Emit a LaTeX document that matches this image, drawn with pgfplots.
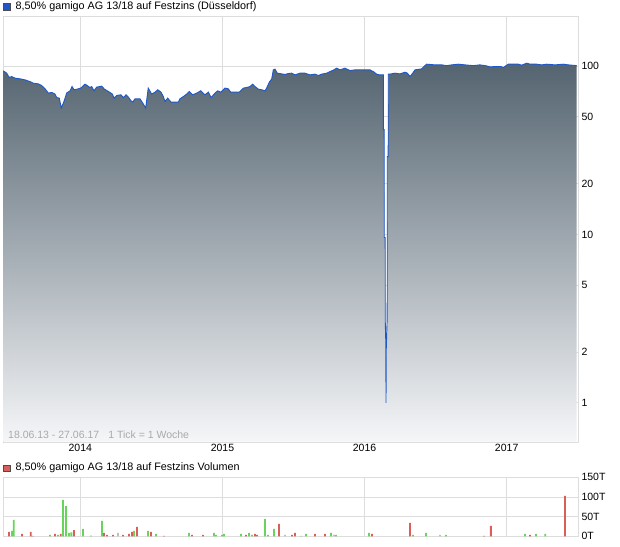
\documentclass[border=0pt]{standalone}
\usepackage{fontspec}
\setmainfont{Liberation Sans}
\usepackage{pgfplots}
\pgfplotsset{compat=1.18}
\usepackage{pgfplotstable}

\definecolor{gridc}{RGB}{221,221,221}
\definecolor{linec}{RGB}{30,88,200}
\definecolor{topc}{RGB}{84,100,112}
\definecolor{botc}{RGB}{245,246,248}
\definecolor{volg}{RGB}{102,214,90}
\definecolor{volr}{RGB}{217,96,90}
\definecolor{volgr}{RGB}{190,190,190}
\definecolor{infoc}{RGB}{170,170,170}

\pgfplotstableread{
x y
2013.458 93.8
2013.482 90.9
2013.500 85.6
2013.517 86.8
2013.541 84.9
2013.576 84.1
2013.611 82.9
2013.646 81.0
2013.669 79.3
2013.705 78.5
2013.728 76.7
2013.752 73.4
2013.775 69.2
2013.799 69.8
2013.822 68.3
2013.834 65.1
2013.852 64.6
2013.866 56.4
2013.885 61.7
2013.904 69.2
2013.928 71.4
2013.942 75.7
2013.956 72.4
2013.979 73.1
2014.003 74.1
2014.033 78.2
2014.049 76.7
2014.068 74.7
2014.080 75.7
2014.096 71.4
2014.115 75.1
2014.127 75.4
2014.151 76.1
2014.169 73.1
2014.186 71.7
2014.209 69.8
2014.225 68.3
2014.239 64.6
2014.256 67.0
2014.286 67.6
2014.303 65.1
2014.322 67.6
2014.338 65.5
2014.357 62.3
2014.369 61.2
2014.385 64.0
2014.420 64.0
2014.439 60.4
2014.460 56.4
2014.478 74.1
2014.502 68.3
2014.526 70.1
2014.545 72.4
2014.568 70.1
2014.584 66.0
2014.596 61.7
2014.615 64.6
2014.638 61.2
2014.690 61.2
2014.701 64.0
2014.725 66.0
2014.749 68.3
2014.767 70.7
2014.790 67.6
2014.819 69.2
2014.847 71.4
2014.877 67.6
2014.901 70.1
2014.920 65.1
2014.948 69.2
2014.967 71.4
2014.988 70.1
2015.018 74.1
2015.041 73.4
2015.058 70.1
2015.119 70.1
2015.147 74.1
2015.171 74.7
2015.194 75.7
2015.213 78.2
2015.229 75.7
2015.252 73.1
2015.276 72.4
2015.300 71.4
2015.311 74.1
2015.330 80.4
2015.347 84.1
2015.358 95.1
2015.370 96.0
2015.386 90.9
2015.440 89.3
2015.463 90.4
2015.487 90.9
2015.511 88.8
2015.546 90.9
2015.581 90.9
2015.616 88.8
2015.651 89.7
2015.675 88.0
2015.698 89.7
2015.734 90.9
2015.757 92.9
2015.780 94.7
2015.804 97.3
2015.827 95.1
2015.862 97.3
2015.898 94.2
2015.933 95.1
2016.038 95.1
2016.062 92.9
2016.085 89.7
2016.104 88.8
2016.1320 88.8
2016.1327 42
2016.1382 42
2016.1389 9.6
2016.1452 9.6
2016.1459 3.0
2016.1500 2.2
2016.1509 1.0
2016.1530 2.1
2016.1593 3.2
2016.1600 29
2016.1663 29
2016.1670 89.7
2016.179 89.7
2016.214 90.9
2016.249 90.0
2016.285 92.1
2016.301 90.9
2016.320 86.8
2016.339 90.9
2016.355 95.1
2016.402 96.4
2016.418 99.5
2016.437 102.8
2016.496 101.8
2016.543 101.8
2016.578 100.8
2016.613 101.8
2016.660 102.8
2016.707 101.8
2016.765 100.8
2016.812 101.8
2016.859 100.4
2016.883 99.0
2016.918 99.5
2016.960 99.5
2016.976 98.1
2017.011 102.8
2017.082 102.8
2017.106 101.4
2017.141 104.2
2017.164 102.8
2017.211 102.8
2017.246 101.8
2017.282 102.8
2017.340 101.8
2017.398 102.8
2017.434 101.8
2017.493 100.8
}\price

\pgfplotstableread{
x v
2013.519 13.6
2013.531 41.5
2013.787 3.5
2013.843 3.5
2013.878 92.5
2013.899 77
2013.920 8.5
2013.937 10
2014.019 19
2014.075 1.7
2014.153 39
2014.378 13.6
2014.476 13.6
2014.533 6
2014.765 8.5
2014.941 8.5
2014.955 3.4
2014.997 3.4
2015.011 6
2015.131 6
2015.187 8.5
2015.208 3.4
2015.300 44
2015.321 3.4
2015.363 19
2015.553 1
2015.588 6
2015.764 8.5
2015.799 3.4
2016.031 8.5
2016.341 3.4
2016.432 8.5
2016.573 3.4
2017.129 6
2017.206 6
2017.272 6
}\volgreen

\pgfplotstableread{
x v
2013.498 11
2013.590 6
2013.651 11
2013.665 1
2013.822 6
2013.862 6
2013.956 16
2014.167 8.5
2014.188 3.4
2014.230 3.4
2014.300 3.4
2014.343 6
2014.364 11
2014.399 24
2014.497 11
2014.589 1
2014.786 3.4
2014.863 3.4
2015.166 3.4
2015.229 6
2015.243 3.4
2015.398 31.5
2015.489 3.4
2015.511 8.5
2015.651 6
2015.722 6
2016.052 6
2016.320 34
2016.840 1
2016.889 26.5
2017.164 3.4
2017.410 102.7
}\volred

\pgfplotstableread{
x v
2014.265 8.5
2015.440 3.4
2015.785 3.4
2016.531 3.4
}\volgray

\begin{document}
\begin{tikzpicture}
\useasboundingbox (0pt,0pt) rectangle (620pt,-546pt);
\pgfplotsset{
  every axis/.append style={
    scale only axis, anchor=north west,
    width=575pt,
    xmin=2013.456, xmax=2017.502,
    axis line style={gridc},
    grid=major, major grid style={gridc, line width=0.9pt},
    major tick length=0pt,
    xtick={2014,2015,2016,2017},
    yticklabel pos=right,
    tick label style={font=\fontsize{10.5}{12}\selectfont, text=black},
    /pgf/number format/assume math mode=true,
  }
}
% main price chart
\begin{axis}[
  at={(3pt,-16pt)}, height=425.7pt,
  ymode=log, ymin=0.587, ymax=198.7, log origin y=infty,
  xticklabels={2014,2015,2016,2017},
  ytick={1,2,5,10,20,50,100}, yticklabels={1,2,5,10,20,50,100},
  xticklabel style={yshift=1.5pt},
]
\addplot[draw=none, top color=topc, bottom color=botc] table[x=x,y=y]{\price} \closedcycle;
\addplot[linec, line width=0.9pt] table[x=x,y=y]{\price};
\node[anchor=base west, text=infoc, font=\fontsize{10.5}{12}\selectfont, inner sep=0pt]
  at (rel axis cs:0.0087,0.0065) {18.06.13 - 27.06.17\hspace{9pt}1 Tick = 1 Woche};
\end{axis}

% volume chart
\begin{axis}[
  at={(3pt,-477.3pt)}, height=59pt,
  ymin=0, ymax=150,
  xticklabels={},
  ytick={0,50,100,150}, yticklabels={0T,50T,100T,150T},
]
\addplot[ybar, bar width=1.8pt, bar shift=0pt, fill=volg, draw=none] table[x=x,y=v]{\volgreen};
\addplot[ybar, bar width=1.8pt, bar shift=0pt, fill=volr, draw=none] table[x=x,y=v]{\volred};
\addplot[ybar, bar width=1.8pt, bar shift=0pt, fill=volgr, draw=none] table[x=x,y=v]{\volgray};
\end{axis}

% titles
\node[draw=black!70, fill=linec, minimum size=6.5pt, inner sep=0pt] at (6.5pt,-6.5pt) {};
\node[anchor=west, inner sep=0pt, font=\fontsize{10.8}{12}\selectfont] at (15.5pt,-6.5pt) {8,50\% gamigo AG 13/18 auf Festzins (Düsseldorf)};
\node[draw=black!70, fill=volr, minimum size=6.5pt, inner sep=0pt] at (6.5pt,-468pt) {};
\node[anchor=west, inner sep=0pt, font=\fontsize{10.8}{12}\selectfont] at (15.5pt,-468pt) {8,50\% gamigo AG 13/18 auf Festzins Volumen};
\end{tikzpicture}
\end{document}
